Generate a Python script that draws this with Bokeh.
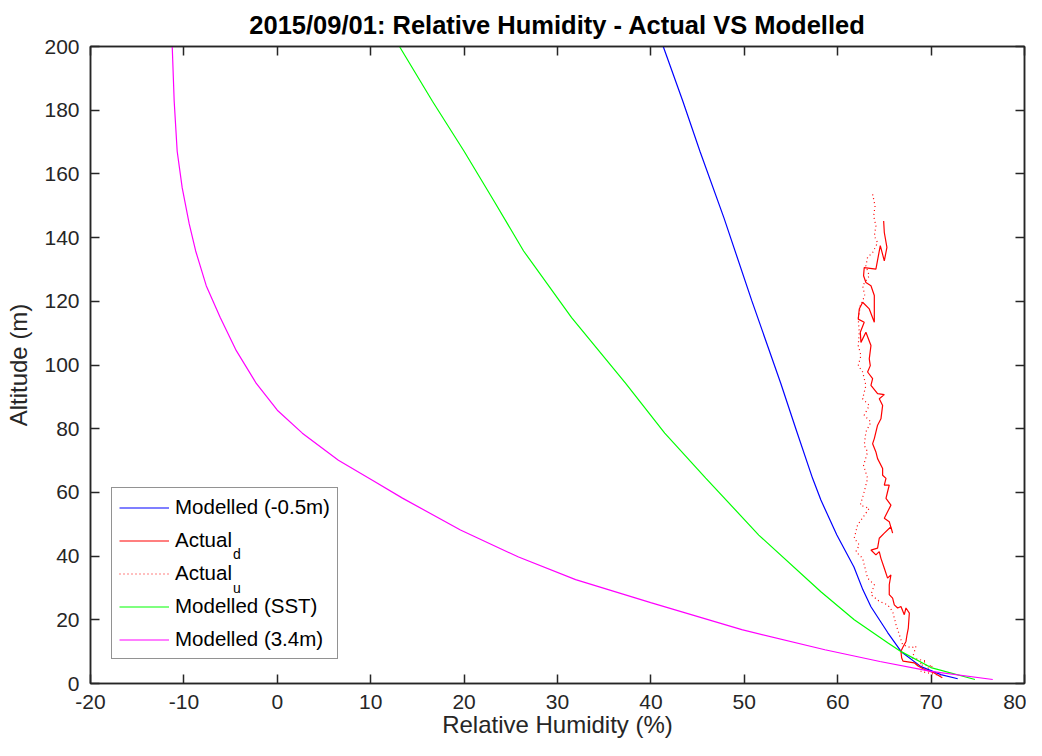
from bokeh.plotting import figure
from bokeh.models import Range1d, LinearAxis, Legend, LegendItem, Label, FixedTicker
from bokeh.embed import file_html
from bokeh.resources import INLINE

# ---- data ---------------------------------------------------------------
alt_m05 = [1.5, 2.8, 5.3, 10.0, 16.0, 24.1, 29.4, 36.6, 46.6, 57.6, 64.5, 79.5, 94.2, 120.2, 146.1, 167.1, 182.8, 200.0]
rh_m05 = [72.85, 71.05, 68.92, 66.80, 65.35, 63.56, 62.70, 61.74, 59.91, 58.20, 57.30, 55.57, 53.91, 50.80, 47.83, 45.25, 43.42, 41.32]

alt_sst = [1.25, 5.0, 10.0, 12.8, 20.0, 28.8, 46.6, 64.5, 78.6, 94.2, 114.9, 135.8, 151.5, 167.1, 182.8, 200.0]
rh_sst = [74.70, 69.99, 66.80, 65.35, 61.77, 58.20, 51.55, 45.87, 41.48, 37.30, 31.51, 26.37, 23.20, 20.00, 16.61, 13.08]

alt_34 = [1.25, 3.8, 6.9, 10.6, 16.9, 25.4, 32.6, 39.7, 48.2, 58.2, 63.8, 70.1, 78.6, 85.8, 94.2, 104.5,
          114.9, 124.9, 135.8, 144.3, 155.6, 167.1, 182.8, 200.0]
rh_34 = [76.60, 70.00, 64.52, 58.63, 49.73, 39.98, 31.94, 25.83, 19.61, 13.40, 10.18, 6.54, 2.68, 0.00, -2.25, -4.39,
         -6.11, -7.61, -8.74, -9.43, -10.18, -10.72, -11.04, -11.25]

# Actual (down profile, solid)
alt_d = [145.2, 141.6, 136.9, 132.7, 137.5, 130.1, 130.6, 128.0, 125.9, 124.9, 121.8, 113.4, 117.6, 119.7,
         117.6, 114.4, 113.4, 110.3, 107.1, 110.3, 106.1, 101.9, 99.8, 97.8, 95.7, 93.6, 91.0, 90.7, 89.4,
         87.3, 83.1, 81.1, 76.9, 75.3, 72.7, 70.6, 67.5, 65.4, 64.4, 62.3, 62.3, 60.2, 58.1, 56.0, 53.9,
         51.9, 50.8, 47.2, 49.2, 47.2, 45.6, 42.5, 41.9, 40.4, 41.4, 39.3, 36.2, 33.1, 34.1, 31.0, 27.9,
         26.8, 24.7, 23.7, 24.2, 21.6, 23.7, 22.1, 17.4, 15.3, 13.2, 11.2, 10.1, 8.0, 7.0, 6.5, 5.5, 4.4,
         3.5, 1.8]
rh_d = [64.92, 64.99, 65.27, 64.99, 64.56, 64.09, 62.84, 62.77, 63.02, 63.56, 63.92, 63.92, 63.38, 62.67,
        62.31, 62.20, 62.84, 62.42, 62.49, 63.02, 63.56, 63.38, 63.49, 63.20, 63.74, 63.56, 64.27, 64.99,
        64.45, 64.81, 64.63, 64.27, 63.92, 63.74, 64.09, 64.27, 64.81, 64.81, 65.17, 64.99, 65.52, 65.34,
        65.17, 65.70, 65.34, 64.99, 65.52, 65.88, 65.70, 64.99, 64.45, 64.27, 63.56, 64.09, 64.45, 64.63,
        64.99, 65.34, 65.70, 65.52, 65.52, 65.88, 66.06, 66.42, 66.77, 67.13, 67.31, 67.67, 67.56, 67.42,
        67.31, 66.95, 66.77, 66.85, 67.00, 68.20, 68.60, 69.30, 70.20, 71.20]

# Actual (up profile, dotted)
alt_u = [153.6, 149.9, 146.8, 143.7, 140.5, 138.4, 135.3, 133.8, 131.1, 128.0, 124.9, 121.8, 118.6, 114.4,
         110.3, 106.1, 103.0, 99.8, 97.8, 93.6, 89.4, 87.3, 84.2, 82.1, 79.0, 74.8, 72.7, 68.5, 64.4, 60.2,
         56.0, 55.0, 49.8, 45.6, 43.5, 41.4, 39.3, 33.1, 31.0, 27.9, 25.8, 24.7, 22.6, 18.5, 15.3, 12.2,
         11.2, 11.7, 8.0, 7.0, 5.9, 5.5, 3.8, 2.5]
rh_u = [63.74, 64.00, 63.85, 64.09, 63.92, 64.27, 63.74, 63.20, 63.02, 63.38, 62.67, 62.90, 62.42, 62.20,
        62.31, 62.20, 62.49, 62.20, 62.67, 63.02, 62.67, 63.38, 62.84, 63.56, 63.02, 62.84, 63.20, 62.77,
        63.20, 62.84, 62.42, 63.38, 62.13, 61.77, 62.31, 61.95, 62.67, 63.20, 63.92, 63.56, 64.45, 65.34,
        65.88, 66.24, 66.60, 66.95, 67.85, 68.38, 68.00, 69.50, 68.56, 70.20, 68.90, 71.00]

x_ticks = [-20, -10, 0, 10, 20, 30, 40, 50, 60, 70, 80]
y_ticks = [0, 20, 40, 60, 80, 100, 120, 140, 160, 180, 200]
x_tick_text = ["-20", "-10", "0", "10", "20", "30", "40", "50", "60", "70", "80"]

TITLE = "2015/09/01: Relative Humidity - Actual VS Modelled"
FONT = "Liberation Sans"
AX = "#262626"

p = figure(width=1026, height=740, x_range=Range1d(-20, 80), y_range=Range1d(0, 200),
           output_backend="svg", toolbar_location=None,
           min_border_left=90, min_border_right=2, min_border_top=45, min_border_bottom=56)
p.title.text = TITLE
p.title.align = "center"
p.title.text_font = FONT
p.title.text_font_size = "25.5px"
p.title.text_font_style = "bold"
p.title.text_color = "#000000"
p.title.standoff = 16

p.grid.visible = False
p.outline_line_color = AX
p.outline_line_width = 1.5
p.background_fill_color = "white"
p.border_fill_color = "white"

p.xaxis.ticker = FixedTicker(ticks=x_ticks)
p.xaxis.major_label_overrides = {t: s for t, s in zip(x_ticks, x_tick_text)}
p.yaxis.ticker = FixedTicker(ticks=y_ticks)
p.xaxis.axis_label = "Relative Humidity (%)"
p.yaxis.axis_label = "Altitude (m)"
for ax in (p.xaxis[0], p.yaxis[0]):
    ax.axis_line_color = AX
    ax.axis_line_width = 1.5
    ax.major_tick_line_color = AX
    ax.major_tick_line_width = 1.5
    ax.major_tick_in = 9
    ax.major_tick_out = 0
    ax.minor_tick_line_color = None
    ax.major_label_text_font = FONT
    ax.major_label_text_font_size = "21px"
    ax.major_label_text_color = AX
    ax.axis_label_text_font = FONT
    ax.axis_label_text_font_size = "24px"
    ax.axis_label_text_font_style = "normal"
    ax.axis_label_text_color = AX
p.xaxis.major_label_standoff = 11
p.xaxis.axis_label_standoff = -1
p.yaxis.major_label_standoff = 11
p.yaxis.axis_label_standoff = 9

for side, tk in (("above", x_ticks), ("right", y_ticks)):
    ax = LinearAxis(ticker=FixedTicker(ticks=tk), axis_line_color=AX, axis_line_width=1.5,
                    major_tick_line_color=AX, major_tick_line_width=1.5,
                    major_tick_in=9, major_tick_out=0, minor_tick_line_color=None,
                    major_label_text_font_size="1px", major_label_text_color=None,
                    major_label_standoff=0)
    p.add_layout(ax, side)

r_blue = p.line(rh_m05, alt_m05, line_color="#0000FF", line_width=1.2)
r_red = p.line(rh_d, alt_d, line_color="#FF0000", line_width=1.2)
r_dot = p.line(rh_u, alt_u, line_color="#FF0000", line_width=1.2, line_dash="1 3")
r_green = p.line(rh_sst, alt_sst, line_color="#00FF00", line_width=1.2)
r_mag = p.line(rh_34, alt_34, line_color="#FF00FF", line_width=1.2)

legend = Legend(items=[
    LegendItem(label="Modelled (-0.5m)", renderers=[r_blue]),
    LegendItem(label="Actual", renderers=[r_red]),
    LegendItem(label="Actual", renderers=[r_dot]),
    LegendItem(label="Modelled (SST)", renderers=[r_green]),
    LegendItem(label="Modelled (3.4m)", renderers=[r_mag]),
], location=(21, 24))
legend.label_text_font = FONT
legend.label_text_font_size = "20.5px"
legend.label_text_color = "#000000"
legend.glyph_width = 50
legend.glyph_height = 23
legend.label_height = 23
legend.label_standoff = 6
legend.padding = 7
legend.spacing = 9
legend.margin = 0
legend.border_line_color = AX
legend.border_line_width = 1
# no curve passes under the legend box, so a transparent fill looks the same
# and lets the subscript labels below show through
legend.background_fill_alpha = 0
p.add_layout(legend)

# subscripts for the two "Actual" legend entries
for txt, ys in (("d", 40.6), ("u", 30.0)):
    p.add_layout(Label(x=-4.75, y=ys, text=txt,
                       text_font=FONT, text_font_size="14px", text_baseline="middle",
                       text_align="left", text_color="#000000"))

open("out.html", "w").write(file_html(p, INLINE))
